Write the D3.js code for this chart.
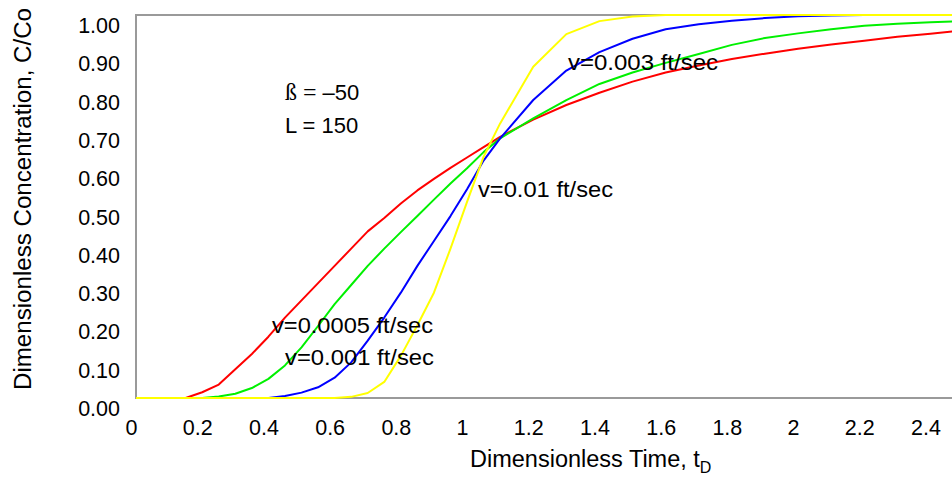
<!DOCTYPE html>
<html>
<head>
<meta charset="utf-8">
<script src="https://cdn.jsdelivr.net/npm/d3@7"></script>
<style>
  html, body { margin: 0; padding: 0; background: #fff; }
  svg { display: block; }
  text { font-family: "Liberation Sans", Arial, Helvetica, sans-serif; fill: #000; }
</style>
</head>
<body>
<svg id="chart" width="952" height="482"></svg>
<script>
// ---- data ----
const xTicks = [0, 0.2, 0.4, 0.6, 0.8, 1, 1.2, 1.4, 1.6, 1.8, 2, 2.2, 2.4];
const xTickLabels = ["0", "0.2", "0.4", "0.6", "0.8", "1", "1.2", "1.4", "1.6", "1.8", "2", "2.2", "2.4"];
const yTicks = [0, 0.1, 0.2, 0.3, 0.4, 0.5, 0.6, 0.7, 0.8, 0.9, 1.0];
const yTickLabels = ["0.00", "0.10", "0.20", "0.30", "0.40", "0.50", "0.60", "0.70", "0.80", "0.90", "1.00"];

const seriesNames = ["v=0.0005 ft/sec", "v=0.001 ft/sec", "v=0.003 ft/sec", "v=0.01 ft/sec"];
const seriesColors = ["#ff0000", "#00f000", "#0000ff", "#ffff00"];

// v = 0.0005 ft/sec (red)
const tRed = [0, 0.05, 0.1, 0.15, 0.2, 0.25, 0.3, 0.35, 0.4, 0.45, 0.5, 0.55, 0.6, 0.65, 0.7, 0.75, 0.8, 0.85, 0.9, 0.95, 1.0, 1.05, 1.1, 1.2, 1.3, 1.4, 1.5, 1.6, 1.7, 1.8, 1.9, 2.0, 2.1, 2.2, 2.3, 2.4, 2.5];
const cRed = [0, 0, 0, 0, 0.015, 0.035, 0.075, 0.115, 0.16, 0.21, 0.255, 0.30, 0.345, 0.39, 0.435, 0.47, 0.508, 0.542, 0.572, 0.601, 0.628, 0.655, 0.682, 0.727, 0.765, 0.797, 0.826, 0.85, 0.868, 0.885, 0.899, 0.912, 0.923, 0.933, 0.943, 0.951, 0.96];

// v = 0.001 ft/sec (green)
const tGreen = [0, 0.05, 0.1, 0.15, 0.2, 0.25, 0.3, 0.35, 0.4, 0.45, 0.5, 0.55, 0.6, 0.65, 0.7, 0.75, 0.8, 0.85, 0.9, 0.95, 1.0, 1.05, 1.1, 1.2, 1.3, 1.4, 1.5, 1.6, 1.7, 1.8, 1.9, 2.0, 2.1, 2.2, 2.3, 2.4, 2.5];
const cGreen = [0, 0, 0, 0, 0, 0.004, 0.011, 0.026, 0.05, 0.085, 0.132, 0.188, 0.245, 0.295, 0.345, 0.39, 0.433, 0.475, 0.518, 0.56, 0.60, 0.642, 0.678, 0.73, 0.778, 0.82, 0.85, 0.875, 0.898, 0.922, 0.94, 0.952, 0.963, 0.972, 0.977, 0.981, 0.984];

// v = 0.003 ft/sec (blue)
const tBlue = [0, 0.05, 0.1, 0.15, 0.2, 0.25, 0.3, 0.35, 0.4, 0.45, 0.5, 0.55, 0.6, 0.65, 0.7, 0.75, 0.8, 0.85, 0.9, 0.95, 1.0, 1.05, 1.1, 1.2, 1.3, 1.4, 1.5, 1.6, 1.7, 1.8, 1.9, 2.0, 2.1, 2.2, 2.3, 2.4, 2.5];
const cBlue = [0, 0, 0, 0, 0, 0, 0, 0, 0, 0.005, 0.014, 0.028, 0.053, 0.093, 0.15, 0.21, 0.275, 0.345, 0.41, 0.475, 0.545, 0.62, 0.678, 0.778, 0.855, 0.903, 0.938, 0.963, 0.976, 0.985, 0.992, 0.997, 0.999, 1.0, 1.0, 1.0, 1.0];

// v = 0.01 ft/sec (yellow)
const tYellow = [0, 0.1, 0.2, 0.3, 0.4, 0.5, 0.6, 0.65, 0.7, 0.75, 0.8, 0.85, 0.9, 0.95, 1.0, 1.05, 1.1, 1.2, 1.3, 1.4, 1.5, 1.6, 1.7, 1.8, 2.0, 2.2, 2.4, 2.5];
const cYellow = [0, 0, 0, 0, 0, 0, 0, 0.003, 0.013, 0.042, 0.11, 0.19, 0.275, 0.39, 0.512, 0.63, 0.717, 0.865, 0.95, 0.984, 0.996, 1.0, 1.0, 1.0, 1.0, 1.0, 1.0, 1.0];

const seriesT = [tRed, tGreen, tBlue, tYellow];
const seriesC = [cRed, cGreen, cBlue, cYellow];

// ---- layout ----
const svg = d3.select("#chart");
const padL = 136, padT = 15, padB = 398, padR = 952;

const x = d3.scaleLinear().domain([0, 2.465]).range([padL, padR]);
const y = d3.scaleLinear().domain([0, 1]).range([padB, padT]);

svg.append("defs").append("clipPath").attr("id", "plotclip")
  .append("rect").attr("x", padL).attr("y", padT - 2).attr("width", padR - padL).attr("height", padB - padT + 4);

// frame
const frameColor = "#9a9a9a";
svg.append("line").attr("x1", padL).attr("x2", padR).attr("y1", padT).attr("y2", padT)
  .attr("stroke", frameColor).attr("stroke-width", 2);
svg.append("line").attr("x1", padL).attr("x2", padL).attr("y1", padT - 1).attr("y2", padB + 1)
  .attr("stroke", frameColor).attr("stroke-width", 2);
svg.append("line").attr("x1", padL).attr("x2", padR).attr("y1", padB).attr("y2", padB)
  .attr("stroke", frameColor).attr("stroke-width", 2);

// lines
const line = d3.line().x(d => x(d[0])).y(d => y(d[1]));
const gLines = svg.append("g").attr("clip-path", "url(#plotclip)");
seriesT.forEach((ts, i) => {
  const pts = ts.map((t, j) => [t, seriesC[i][j]]);
  gLines.append("path").datum(pts)
    .attr("d", line)
    .attr("fill", "none")
    .attr("stroke", seriesColors[i])
    .attr("stroke-width", 2)
    .attr("stroke-linejoin", "round");
});

// y axis labels
svg.append("g").selectAll("text").data(yTicks).join("text")
  .attr("x", 120)
  .attr("y", d => y(d) + 18)
  .attr("text-anchor", "end")
  .attr("font-size", 21.5)
  .text((d, i) => yTickLabels[i]);

// x axis labels
svg.append("g").selectAll("text").data(xTicks).join("text")
  .attr("x", d => x(d) - 4.5)
  .attr("y", 435)
  .attr("text-anchor", "middle")
  .attr("font-size", 21.5)
  .text((d, i) => xTickLabels[i]);

// axis titles
const xt = svg.append("text").attr("x", 470).attr("y", 467).attr("font-size", 23.5);
xt.append("tspan").text("Dimensionless Time, t");
xt.append("tspan").attr("font-size", 16).attr("dy", 6).text("D");

svg.append("text")
  .attr("transform", "translate(31,199) rotate(-90)")
  .attr("text-anchor", "middle")
  .attr("font-size", 23)
  .attr("textLength", 382)
  .attr("lengthAdjust", "spacingAndGlyphs")
  .text("Dimensionless Concentration, C/Co");

// parameters
const p1 = svg.append("text").attr("x", 285).attr("y", 100).attr("font-size", 22);
p1.append("tspan").attr("font-family", "Liberation Serif, serif").attr("font-size", 24).text("ß = ");
p1.append("tspan").text("–50");
svg.append("text").attr("x", 285).attr("y", 133).attr("font-size", 22).text("L = 150");

// series annotations
const ann = [
  { name: seriesNames[0], x: 272, y: 333, w: 161 },
  { name: seriesNames[1], x: 285, y: 365, w: 149 },
  { name: seriesNames[2], x: 568, y: 70, w: 150 },
  { name: seriesNames[3], x: 478, y: 197, w: 135 }
];
svg.append("g").selectAll("text").data(ann).join("text")
  .attr("x", d => d.x).attr("y", d => d.y)
  .attr("font-size", 22.5)
  .attr("textLength", d => d.w)
  .attr("lengthAdjust", "spacingAndGlyphs")
  .text(d => d.name);
</script>
</body>
</html>
